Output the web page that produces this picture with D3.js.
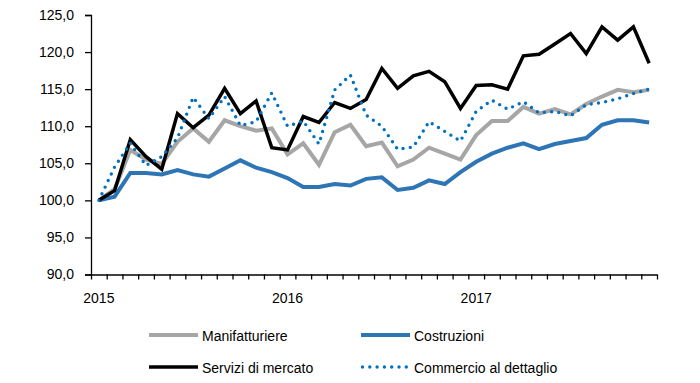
<!DOCTYPE html>
<html>
<head>
<meta charset="utf-8">
<script src="https://cdn.jsdelivr.net/npm/d3@7"></script>
<style>
  body { margin: 0; background: #fff; }
  svg { font-family: "Liberation Sans", Arial, sans-serif; }
</style>
</head>
<body>
<div id="vis-holder"></div>
<script>
// monthly index, Jan 2015 = 100
const months = d3.range(36);
const yearLabels = [{ month: 0, label: "2015" }, { month: 12, label: "2016" }, { month: 24, label: "2017" }];
const yTicks = [90, 95, 100, 105, 110, 115, 120, 125];

const manifatturiere = [100.0, 101.5, 106.8, 105.5, 104.9, 107.9, 109.7, 107.9, 110.8, 110.0, 109.4, 109.7,
  106.2, 107.7, 104.8, 109.2, 110.2, 107.3, 107.8, 104.6, 105.5, 107.1, 106.3, 105.5,
  108.8, 110.7, 110.7, 112.6, 111.7, 112.3, 111.6, 113.0, 114.0, 114.9, 114.6, 114.9];
const costruzioni = [100.0, 100.5, 103.7, 103.7, 103.5, 104.1, 103.5, 103.2, 104.3, 105.4, 104.4, 103.8,
  103.0, 101.8, 101.8, 102.2, 102.0, 102.9, 103.1, 101.4, 101.7, 102.7, 102.2, 103.8,
  105.2, 106.3, 107.1, 107.7, 106.9, 107.6, 108.0, 108.4, 110.2, 110.8, 110.8, 110.5];
const servizi = [100.0, 101.3, 108.2, 105.9, 104.2, 111.7, 109.8, 111.5, 115.1, 111.7, 113.4, 107.1,
  106.8, 111.3, 110.5, 113.2, 112.4, 113.6, 117.8, 115.1, 116.8, 117.4, 116.0, 112.4,
  115.5, 115.6, 115.0, 119.5, 119.7, 121.1, 122.5, 119.8, 123.4, 121.6, 123.4, 118.5];
const commercio = [100.0, 104.5, 107.7, 104.7, 105.9, 108.4, 113.9, 111.0, 114.0, 110.1, 110.6, 114.5,
  110.0, 110.7, 107.6, 114.9, 116.9, 111.5, 110.0, 106.9, 107.2, 110.6, 109.3, 108.0,
  112.0, 113.5, 112.3, 113.3, 111.8, 112.0, 111.4, 112.9, 113.2, 113.7, 114.4, 115.0];

const series = [
  { name: "Manifatturiere", values: manifatturiere, color: "#A6A6A6", width: 4, dash: null },
  { name: "Costruzioni", values: costruzioni, color: "#2E75B6", width: 4, dash: null },
  { name: "Servizi di mercato", values: servizi, color: "#000000", width: 3.5, dash: null },
  { name: "Commercio al dettaglio", values: commercio, color: "#0070C0", width: 3.4, dash: "0,7.3" }
];

const width = 700;
const height = 383;
const margin = { top: 15, right: 43, bottom: 108.5, left: 91 };

const svg = d3.select("#vis-holder")
  .append("svg")
  .attr("width", width)
  .attr("height", height);

const x = d3.scaleLinear()
  .domain([0, 36])
  .range([margin.left, width - margin.right]);

const y = d3.scaleLinear()
  .domain([90, 125])
  .range([height - margin.bottom, margin.top]);

const fmt = d3.format(".1f");

svg.append("g")
  .attr("transform", `translate(${margin.left},0)`)
  .call(d3.axisLeft(y).tickValues(yTicks).tickSize(6).tickPadding(11)
    .tickFormat(d => fmt(d).replace(".", ",")))
  .call(g => g.select(".domain").attr("stroke", "#000").attr("stroke-width", 1.3))
  .call(g => g.selectAll("line").attr("stroke", "#000").attr("stroke-width", 1.3))
  .call(g => g.selectAll("text").attr("font-size", "14px").attr("fill", "#000")
    .attr("font-family", "Liberation Sans, Arial, sans-serif"));

svg.append("g")
  .attr("transform", `translate(0,${height - margin.bottom})`)
  .call(d3.axisBottom(x).tickValues(d3.range(37)).tickSize(5).tickSizeOuter(0).tickFormat(""))
  .call(g => g.select(".domain").attr("stroke", "#000").attr("stroke-width", 1.3))
  .call(g => g.selectAll("line").attr("stroke", "#000").attr("stroke-width", 1.3));

svg.append("g")
  .selectAll("text")
  .data(yearLabels)
  .enter()
  .append("text")
  .attr("x", d => x(d.month + 0.5))
  .attr("y", 303)
  .attr("text-anchor", "middle")
  .attr("font-size", "14px")
  .text(d => d.label);

const line = d3.line()
  .x((d, i) => x(i + 0.5))
  .y(d => y(d));

svg.append("g")
  .selectAll("path")
  .data(series)
  .enter()
  .append("path")
  .attr("d", d => line(d.values))
  .attr("fill", "none")
  .attr("stroke", d => d.color)
  .attr("stroke-width", d => d.width)
  .attr("stroke-linejoin", "miter")
  .attr("stroke-linecap", d => d.dash ? "round" : "butt")
  .attr("stroke-dasharray", d => d.dash);

// legend, two columns by two rows
const legendPos = [
  { x: 149, y: 335 }, { x: 361, y: 335 },
  { x: 149, y: 367 }, { x: 361, y: 367 }
];

const legend = svg.append("g")
  .selectAll("g")
  .data(series)
  .enter()
  .append("g")
  .attr("transform", (d, i) => `translate(${legendPos[i].x},${legendPos[i].y})`);

legend.append("line")
  .attr("x1", d => d.dash ? 1.5 : 0)
  .attr("x2", 49)
  .attr("stroke", d => d.color)
  .attr("stroke-width", d => d.width)
  .attr("stroke-linecap", d => d.dash ? "round" : "butt")
  .attr("stroke-dasharray", d => d.dash);

legend.append("text")
  .attr("x", 53)
  .attr("y", 6)
  .attr("font-size", "14px")
  .text(d => d.name);
</script>
</body>
</html>
